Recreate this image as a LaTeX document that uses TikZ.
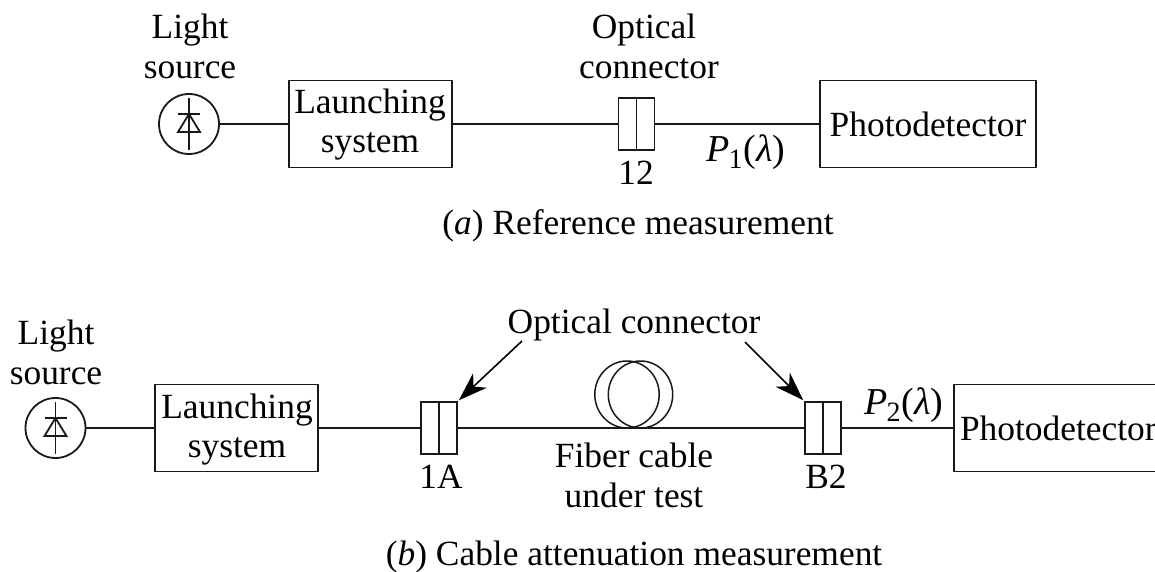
\documentclass[tikz,border=0pt]{standalone}
\usepackage{fontspec}
\setmainfont{Liberation Serif}
\usetikzlibrary{arrows.meta}
\newcommand{\Psub}[1]{{\fontsize{38}{40}\selectfont\textit{P}\kern-1pt\raisebox{-7pt}{\fontsize{28}{28}\selectfont #1}\kern1pt(\textit{λ})}}
\tikzset{
  x=1pt,y=-1pt,
  every node/.style={font=\fontsize{35.4}{40}\selectfont,inner sep=0pt,outer sep=0pt,text=black},
  lbl/.style={anchor=base},
  wire/.style={draw=black!90,line width=1.8pt},
  boxn/.style={rectangle,draw=black!90,line width=1.8pt,minimum width=163pt,minimum height=87pt},
  detbox/.style={rectangle,draw=black!90,line width=1.8pt,minimum width=216pt,minimum height=87pt},
  conn/.style={rectangle,draw=black!90,line width=1.8pt,minimum width=36pt,minimum height=52pt},
  src/.style={circle,draw=black!90,line width=1.8pt,minimum size=60pt},
  pointer/.style={draw=black,line width=1.6pt,shorten >=2.5pt,-{Stealth[length=29pt,width=20pt,inset=9pt]}}
}
\newcommand{\diode}[1]{%
  \draw[wire] (#1)++(0,-26)--++(0,52);
  \draw[wire] (#1)++(-11,-10)--++(22,0);
  \draw[wire] (#1)++(0,-10)--++(11,18)--++(-22,0)--cycle;
}
\begin{document}
\begin{tikzpicture}
\useasboundingbox (0,0) rectangle (1155,572);
\clip (0,0) rectangle (1155,572);
% --- (a)
\node[src] (s1) at (189,124) {};
\diode{s1}
\node[boxn] (l1) at (370.5,124) {};
\node[conn] (c1) at (636.5,124) {};
\node[detbox] (d1) at (928,124) {};
\draw[wire] (c1.north)--(c1.south);
\draw[wire] (s1.east) -- (l1.west);
\draw[wire] (l1.east) -- (c1.west);
\draw[wire] (c1.east) -- (d1.west);
\node[lbl] (t1) at (190,39) {Light};
\node[lbl] (t2) at (190,79) {source};
\node[lbl] (t3) at (370,114) {Launching};
\node[lbl] (t4) at (370,153) {system};
\node[lbl] (t5) at (644,39) {Optical};
\node[lbl] (t6) at (649,79) {connector};
\node[lbl] (t7) at (636,184) {12};
\node[lbl] (t8) at (746,161) {\Psub{1}};
\node[lbl] (t9) at (928,137) {Photodetector};
\node[lbl] (t10) at (638,234) {(\textit{a}) Reference measurement};
% --- (b)
\node[src] (s2) at (55.5,428) {};
\diode{s2}
\node[boxn] (l2) at (236.5,428) {};
\node[conn] (c2) at (439,428) {};
\node[conn] (c3) at (823,428) {};
\node[detbox] (d2) at (1062,428) {};
\draw[wire] (c2.north)--(c2.south);
\draw[wire] (c3.north)--(c3.south);
\draw[wire] (s2.east) -- (l2.west);
\draw[wire] (l2.east) -- (c2.west);
\draw[wire] (c2.east) -- (c3.west);
\draw[wire] (c3.east) -- (d2.west);
\draw[wire,line width=1.5pt] (627,394.5) ellipse [x radius=32.2,y radius=33.5];
\draw[wire,line width=1.5pt] (640.5,394.5) ellipse [x radius=32.2,y radius=33.5];
\node[lbl] (u1) at (56,344) {Light};
\node[lbl] (u2) at (56,384) {source};
\node[lbl] (u3) at (237,418) {Launching};
\node[lbl] (u4) at (237,457) {system};
\node[lbl] (u5) at (634,333) {Optical connector};
\node[lbl] (u6) at (441,488) {1A};
\node[lbl] (u7) at (634,467) {Fiber cable};
\node[lbl] (u8) at (634,507) {under test};
\node[lbl] (u9) at (826,488) {B2};
\node[lbl] (u10) at (904,414) {\Psub{2}};
\node[lbl,anchor=base west] (u11) at (960,440) {Photodetector};
\node[lbl] (u12) at (634,565) {(\textit{b}) Cable attenuation measurement};
\coordinate (a1) at (522,341);
\coordinate (a2) at (745,342);
\draw[pointer] (a1) -- (c2.north east);
\draw[pointer] (a2) -- (c3.north west);
\end{tikzpicture}
\end{document}
